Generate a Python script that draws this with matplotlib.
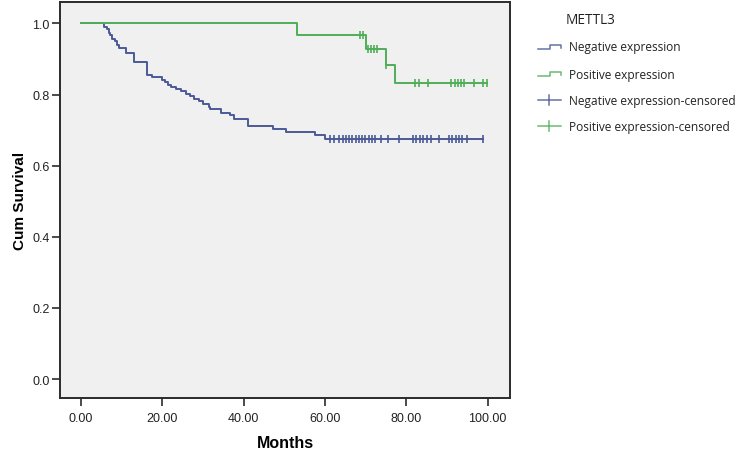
import numpy as np
import matplotlib
matplotlib.use("Agg")
import matplotlib.pyplot as plt
from matplotlib.lines import Line2D

# ---------------- data ----------------
neg_event_months = [5.7, 6.3, 6.8, 7.2, 7.7, 8.3, 8.8, 9.2, 11.1, 13.0, 16.1, 17.4,
                    19.8, 20.6, 21.3, 22.2, 23.4, 24.6, 25.8, 26.7, 27.8, 29.0, 30.1,
                    31.5, 31.8, 34.4, 36.5, 37.6, 41.1, 47.2, 50.5, 57.6, 60.0]
neg_surv = [0.991, 0.983, 0.974, 0.966, 0.957, 0.949, 0.940, 0.932, 0.918, 0.891,
            0.855, 0.848, 0.842, 0.836, 0.828, 0.822, 0.816, 0.810, 0.802, 0.795,
            0.788, 0.781, 0.772, 0.764, 0.758, 0.749, 0.741, 0.732, 0.712, 0.703,
            0.694, 0.685, 0.676]
neg_censored_months = [61.2, 62.1, 63.5, 64.3, 65.1, 65.9, 66.7, 67.5, 68.3, 69.1,
                       69.9, 70.8, 71.6, 72.4, 73.8, 75.5, 78.3, 81.6, 82.4, 83.3,
                       84.2, 85.1, 86.0, 88.0, 90.5, 91.3, 92.1, 92.9, 93.7, 94.8, 98.8]

pos_event_months = [53.0, 70.0, 75.0, 77.1]
pos_surv = [0.966, 0.929, 0.883, 0.832]
pos_censored_months = [68.5, 69.3, 70.6, 71.4, 72.0, 72.8, 75.0, 82.1, 83.1, 85.3,
                       91.1, 91.9, 92.7, 93.5, 94.2, 96.6, 98.8, 99.8]

x_ticks = [0, 20, 40, 60, 80, 100]
x_tick_labels = ["0.00", "20.00", "40.00", "60.00", "80.00", "100.00"]
y_ticks = [0.0, 0.2, 0.4, 0.6, 0.8, 1.0]
y_tick_labels = ["0.0", "0.2", "0.4", "0.6", "0.8", "1.0"]

legend_title = "METTL3"
legend_labels = ["Negative expression", "Positive expression",
                 "Negative expression-censored", "Positive expression-censored"]

NEG_COLOR = "#4B5A96"
POS_COLOR = "#4FAE58"
FRAME = "#2b2b2b"

# ---------------- figure ----------------
W, H = 750, 464
fig = plt.figure(figsize=(W / 100, H / 100), dpi=100)
fig.patch.set_facecolor("white")

def fx(px):
    return px / W

def fy(py):
    return 1 - py / H

ax = fig.add_axes([fx(60), fy(399), fx(510) - fx(60), fy(3) - fy(399)])
ax.set_facecolor("#F0F0F0")


def km_curve(event_t, surv, cens_t):
    t = np.concatenate([[0.0], np.asarray(event_t, float)])
    s = np.concatenate([[1.0], np.asarray(surv, float)])
    end = max(cens_t)
    t_full = np.concatenate([t, [end]])
    s_full = np.concatenate([s, [s[-1]]])
    idx = np.searchsorted(t, np.asarray(cens_t, float), side="right") - 1
    return t_full, s_full, s[idx]


for ev, sv, ce, col in [(neg_event_months, neg_surv, neg_censored_months, NEG_COLOR),
                        (pos_event_months, pos_surv, pos_censored_months, POS_COLOR)]:
    tf, sf, cs = km_curve(ev, sv, ce)
    ax.step(tf, sf, where="post", color=col, lw=1.4, zorder=3)
    ax.plot(ce, cs, linestyle="none", marker="|", markersize=6.0,
            markeredgewidth=1.2, color=col, zorder=4)

ax.set_xlim(-5.2, 105.5)
ax.set_ylim(-0.053, 1.06)
ax.set_xticks(x_ticks)
ax.set_xticklabels(x_tick_labels)
ax.set_yticks(y_ticks)
ax.set_yticklabels(y_tick_labels)

for lab in ax.get_xticklabels() + ax.get_yticklabels():
    lab.set_fontfamily(["Liberation Sans", "DejaVu Sans"])
    lab.set_fontsize(9)
    lab.set_color("#222222")

ax.tick_params(axis="y", direction="out", length=6, width=1.2, color=FRAME, pad=1.5)
ax.tick_params(axis="x", direction="out", length=6, width=1.2, color=FRAME, pad=4)
for sp in ax.spines.values():
    sp.set_color(FRAME)
    sp.set_linewidth(1.4)

ax.set_xlabel("Months", fontsize=11.5, fontweight="bold",
              family=["Liberation Sans", "DejaVu Sans"], labelpad=8)
ax.set_ylabel("Cum Survival", fontsize=11, fontweight="bold",
              family=["Liberation Sans", "DejaVu Sans"], labelpad=4)

# ---------------- legend (drawn manually like SPSS) ----------------
leg_font = ["Open Sans", "DejaVu Sans"]
fig.text(fx(566), fy(20), legend_title, fontsize=9.8, family=leg_font,
         va="center", ha="left", color="#222222")

rows_y = [48, 75, 101, 127]
colors = [NEG_COLOR, POS_COLOR, NEG_COLOR, POS_COLOR]
for i, (yy, lab, col) in enumerate(zip(rows_y, legend_labels, colors)):
    if i < 2:
        xs = [538, 550, 550, 560.5, 560.5]
        ys = [yy + 2, yy + 2, yy - 2, yy - 2, yy + 1]
        fig.add_artist(Line2D([fx(v) for v in xs], [fy(v) for v in ys],
                              color=col, lw=1.1, alpha=0.85))
    else:
        fig.add_artist(Line2D([fx(538), fx(561)], [fy(yy), fy(yy)],
                              color=col, lw=1.1, alpha=0.85))
        fig.add_artist(Line2D([fx(549), fx(549)], [fy(yy - 5), fy(yy + 5)],
                              color=col, lw=1.1, alpha=0.85))
    fig.text(fx(569), fy(yy), lab, fontsize=8.6, family=leg_font,
             va="center", ha="left", color="#222222")

fig.savefig("out.png", dpi=100, facecolor="white")
